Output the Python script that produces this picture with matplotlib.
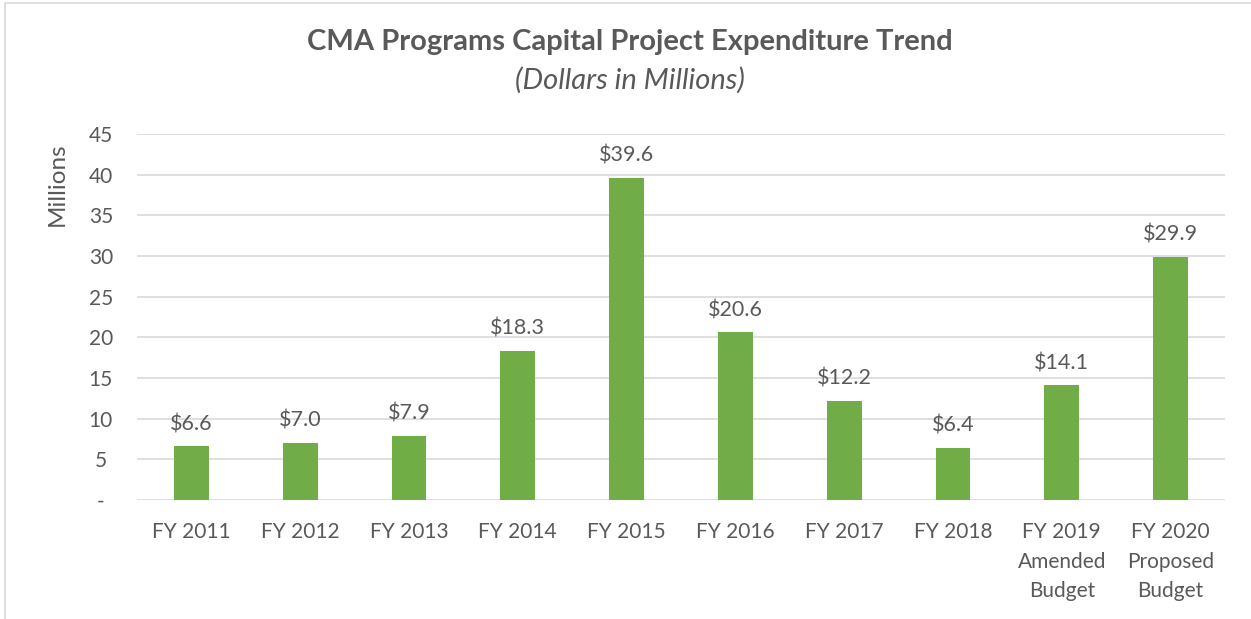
import numpy as np
import matplotlib.pyplot as plt
from matplotlib.patches import Rectangle

# ========== data ==========
categories = ['FY 2011', 'FY 2012', 'FY 2013', 'FY 2014', 'FY 2015', 'FY 2016',
              'FY 2017', 'FY 2018', 'FY 2019\nAmended\nBudget', 'FY 2020\nProposed\nBudget']
values = [6.6, 7.0, 7.9, 18.3, 39.6, 20.6, 12.2, 6.4, 14.1, 29.9]
y_ticks = [0, 5, 10, 15, 20, 25, 30, 35, 40, 45]
y_tick_labels = ['-', '5', '10', '15', '20', '25', '30', '35', '40', '45']

# ========== style ==========
plt.rcParams['font.family'] = ['Lato', 'DejaVu Sans']
txt = '#595959'
green = '#70AD47'
W, H = 1251, 619

fig = plt.figure(figsize=(W / 100, H / 100), dpi=100)
ax = fig.add_axes([137 / W, 1 - 500 / H, (1225 - 137) / W, (500 - 134) / H])

x = np.arange(len(categories))
ax.bar(x, values, width=0.32, color=green, zorder=3)
for xi, v in zip(x, values):
    ax.text(xi, v + 1.5, f'${v:.1f}', ha='center', va='bottom', fontsize=15.5, color=txt)

ax.set_xlim(-0.5, len(categories) - 0.5)
ax.set_ylim(0, 45)
ax.set_yticks(y_ticks)
ax.set_yticklabels(y_tick_labels)
ax.set_xticks(x)
ax.set_xticklabels(categories, linespacing=1.6)
ax.tick_params(axis='both', length=0, labelsize=15, colors=txt)
ax.tick_params(axis='x', pad=16)
ax.tick_params(axis='y', pad=26)
for lbl in ax.get_yticklabels():
    lbl.set_horizontalalignment('center')
ax.grid(axis='y', color='#D9D9D9', linewidth=1.2, zorder=0)
for s in ax.spines.values():
    s.set_visible(False)

fig.text(57 / W, 1 - 184 / H, 'Millions', rotation=90, ha='center', va='center',
         fontsize=17.5, color=txt)

fig.text(630 / W, 1 - 42 / H, 'CMA Programs Capital Project Expenditure Trend',
         ha='center', va='center', fontsize=21, fontweight='bold', color=txt)
fig.text(630 / W, 1 - 80 / H, '(Dollars in Millions)',
         ha='center', va='center', fontsize=21, style='italic', color=txt)

# chart area border
fig.patches.append(Rectangle((5 / W, -0.01), 1.02, 1 - 3 / H + 0.01, transform=fig.transFigure,
                             fill=False, edgecolor='#D9D9D9', linewidth=1.2))

fig.savefig('out.png', dpi=100)
